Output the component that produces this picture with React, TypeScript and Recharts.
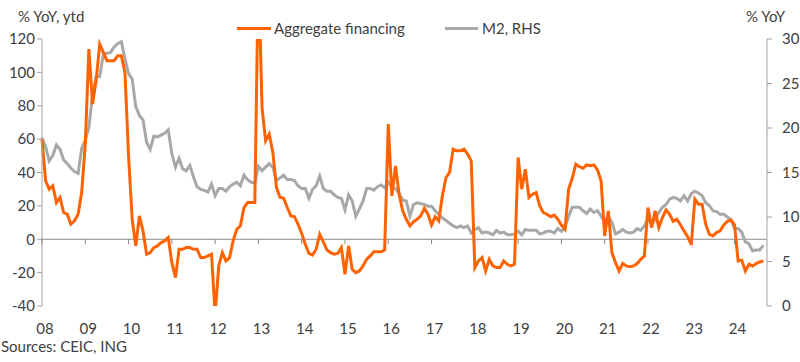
import { LineChart, Line, XAxis, YAxis, ReferenceLine } from 'recharts';

const yearLabels = ['08', '09', '10', '11', '12', '13', '14', '15', '16', '17', '18', '19', '20', '21', '22', '23', '24'];

// Aggregate financing, % YoY ytd, monthly from Jan 2008
const aggregateFinancing = [
  60, 35, 30, 32, 22, 25, 16, 15, 9, 11, 15, 28,
  57, 114, 81, 95, 117, 112, 107, 107, 107, 110, 110, 100,
  50, 12, -4, 14, 5, -9, -8, -5, -4, -2, -1, 1,
  -14, -23, -6, -6, -5, -5, -6, -6, -11, -11, -10, -9,
  -45, -16, -8, -13, -11, -1, 6, 8, 19, 22, 22, 22,
  162, 79, 59, 63, 52, 31, 25, 24.5, 19, 14, 13.5, 9,
  3.5, -3, -8.5, -9.5, -6, 3, -1.5, -6.5, -8, -9, -8.5, -5,
  -21, -4, -18, -20, -19, -16, -12, -10, -7.5, -7.5, -7.5, -6.5,
  69, 26, 44, 27, 17, 12, 8, 10.5, 12, 14, 18.5, 15,
  8.5, 13.5, 11, 26, 37, 40, 54, 53, 53, 54, 51, 47,
  -17, -13, -11, -19, -12, -16, -17, -17, -13, -15, -16, -15,
  49, 30, 42, 25, 27, 28, 20, 16, 15, 13.5, 14.5, 12,
  8.5, 6, 30, 36.5, 45, 43.5, 42.5, 44.5, 44, 44.5, 41.5, 35,
  2, 17, -8, -14, -19, -14.5, -16, -16.4, -16, -14.6, -12, -10,
  19, 7, 17, 7, 13, 17.5, 15, 10.7, 12, 8.7, 5, 1.5,
  -3.3, 24, 21, 21, 9, 3, 2, 4, 5, 8.5, 10.7, 11.5,
  8.7, -13, -12.6, -19, -15, -16, -14.6, -13.6, -13,
];

// M2, % YoY (RHS), monthly from Jan 2008
const m2Growth = [
  18.9, 17.9, 16.3, 16.9, 18.1, 17.6, 16.4, 16.0, 15.5, 15.1, 14.9, 17.7,
  18.6, 20.1, 23.7, 25.8, 25.8, 28.3, 28.4, 28.5, 29.1, 29.5, 29.7, 27.8,
  26.1, 25.5, 22.4, 21.4, 20.9, 18.4, 17.6, 19.1, 19.0, 19.2, 19.4, 19.8,
  17.1, 15.6, 16.6, 15.4, 15.2, 15.8, 14.5, 13.4, 13.1, 13.0, 12.8, 13.7,
  12.4, 13.2, 13.2, 12.9, 13.4, 13.7, 13.9, 13.5, 14.7, 14.2, 13.9, 13.8,
  15.7, 15.2, 15.6, 16.0, 15.6, 14.1, 14.4, 14.7, 14.2, 14.2, 14.1, 13.5,
  13.2, 13.2, 12.1, 13.1, 13.5, 14.6, 13.2, 12.9, 12.9, 12.5, 12.2, 12.1,
  10.8, 12.5, 11.8, 10.1, 10.9, 11.8, 13.2, 13.2, 13.0, 13.4, 13.6, 13.3,
  13.9, 13.3, 13.2, 12.7, 11.9, 11.8, 10.1, 11.4, 11.6, 11.5, 11.4, 11.2,
  11.2, 10.7, 10.3, 9.9, 9.6, 9.3, 9.0, 8.8, 9.0, 8.8, 9.0, 8.2,
  8.6, 8.8, 8.2, 8.3, 8.2, 8.0, 8.5, 8.2, 8.3, 8.0, 8.0, 8.1,
  8.4, 8.0, 8.6, 8.5, 8.5, 8.5, 8.1, 8.2, 8.4, 8.4, 8.2, 8.7,
  8.4, 8.8, 10.1, 11.1, 11.1, 11.1, 10.7, 10.4, 10.9, 10.5, 10.7, 10.1,
  9.4, 10.1, 9.4, 8.1, 8.3, 8.6, 8.3, 8.2, 8.3, 8.7, 8.5, 9.0,
  9.8, 9.2, 9.7, 10.5, 11.1, 11.4, 12.0, 12.2, 12.1, 11.8, 12.4, 11.8,
  12.6, 12.9, 12.7, 12.4, 11.6, 11.3, 10.7, 10.6, 10.3, 10.3, 10.0, 9.7,
  8.7, 8.7, 8.3, 7.2, 7.0, 6.2, 6.3, 6.3, 6.8,
];

const leftTicks = [-40, -20, 0, 20, 40, 60, 80, 100, 120];
const rightTicks = [0, 5, 10, 15, 20, 25, 30];
const yearTicks = yearLabels.map((_, i) => i * 12);

const rows = m2Growth.map((v, i) => ({ m: i, af: aggregateFinancing[i] ?? null, m2: v }));

const ORANGE = '#FF6200';
const GREY = '#A8A8A8';
const AXIS = '#A0A0A0';
const ZERO = '#8A8A8A';
const TEXT = '#404040';
const FONT = 'Lato, sans-serif';
const FS = 15;

// plot box (used for the small ticks sitting on the zero line)
const TOP = 39;
const PLOT_H = 267;
const ZERO_Y = TOP + (PLOT_H * 120) / 160;

function YearTick(props: any) {
  const { x, y, payload } = props;
  return (
    <g>
      <line x1={x} x2={x} y1={ZERO_Y} y2={ZERO_Y + 5} stroke={ZERO} />
      <text x={x + 3} y={y} dy="0.71em" textAnchor="middle" fill={TEXT} fontSize={FS} fontFamily={FONT}>
        {yearLabels[Math.round(payload.value / 12)]}
      </text>
    </g>
  );
}

const label = (left: number, top: number, text: string) => (
  <div style={{ position: 'absolute', left, top, fontSize: FS, lineHeight: '15px', whiteSpace: 'nowrap' }}>{text}</div>
);

export default function App() {
  return (
    <div style={{ position: 'absolute', left: 0, top: 0, width: 800, height: 362, fontFamily: FONT, color: TEXT, background: '#fff' }}>
      <LineChart width={800} height={362} data={rows} margin={{ top: TOP, right: 0, bottom: 0, left: 0 }}>
        <XAxis
          type="number"
          dataKey="m"
          domain={[0, 201]}
          ticks={yearTicks}
          interval={0}
          axisLine={false}
          tickLine={false}
          tickMargin={11}
          height={56}
          tick={<YearTick />}
        />
        <YAxis
          yAxisId="left"
          domain={[-40, 120]}
          ticks={leftTicks}
          allowDataOverflow
          width={42}
          tickSize={5}
          axisLine={{ stroke: AXIS }}
          tickLine={{ stroke: AXIS }}
          tick={{ fill: TEXT, fontSize: FS, fontFamily: FONT }}
        />
        <YAxis
          yAxisId="right"
          orientation="right"
          domain={[0, 30]}
          ticks={rightTicks}
          allowDataOverflow
          width={33}
          tickSize={5}
          tickMargin={10}
          axisLine={{ stroke: AXIS }}
          tickLine={{ stroke: AXIS }}
          tick={{ fill: TEXT, fontSize: FS, fontFamily: FONT }}
        />
        <ReferenceLine yAxisId="left" y={0} stroke={ZERO} strokeWidth={1} />
        <Line yAxisId="right" dataKey="m2" stroke={GREY} strokeWidth={3} dot={false} isAnimationActive={false} />
        <Line yAxisId="left" dataKey="af" stroke={ORANGE} strokeWidth={3} dot={false} isAnimationActive={false} />
      </LineChart>
      {label(18, 9, '% YoY, ytd')}
      {label(746, 9, '% YoY')}
      <div style={{ position: 'absolute', left: 237, top: 27, width: 34, height: 3, background: ORANGE }} />
      {label(274, 21, 'Aggregate financing')}
      <div style={{ position: 'absolute', left: 445, top: 27, width: 33, height: 3, background: GREY }} />
      {label(482, 21, 'M2, RHS')}
      {label(1, 339, 'Sources: CEIC, ING')}
    </div>
  );
}
